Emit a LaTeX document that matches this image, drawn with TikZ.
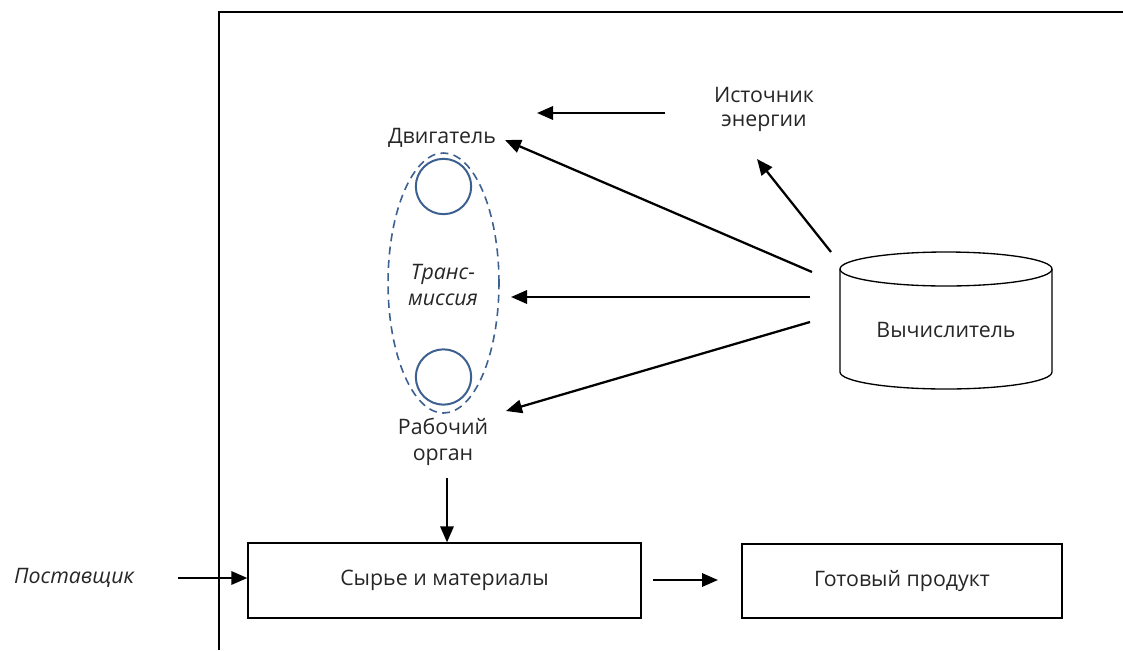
\documentclass[tikz,border=0pt]{standalone}
\usepackage{fontspec}
\setmainfont{Open Sans}
\usetikzlibrary{arrows.meta}
\definecolor{dblue}{HTML}{3C6090}
\definecolor{txt}{HTML}{262626}
\begin{document}
\begin{tikzpicture}[x=0.75pt,y=0.75pt,
  lbl/.style={font=\fontsize{16}{20}\selectfont, text=txt, align=center, inner sep=0pt},
  ilbl/.style={lbl, font=\fontsize{16}{20}\selectfont\itshape},
  conn/.style={line width=1.7pt, -{Triangle[length=12pt,width=10pt]}},
  box/.style={draw, line width=1pt, inner sep=0pt},
  circ/.style={draw=dblue, line width=1.5pt, circle, minimum size=41.5pt, inner sep=0pt}]
\useasboundingbox (0,0) rectangle (1123,-650);
% frame
\draw[line width=0.8pt] (219,-650) -- (219,-12) -- (1123,-12);
% labels
\node[lbl, font=\fontsize{16}{18}\selectfont] (src) at (764,-109) {Источник\\энергии};
\node[lbl] (motor) at (442,-138) {Двигатель};
\node[ilbl] (trans) at (443,-285) {Транс-\\миссия};
\node[lbl] (work) at (443,-442) {Рабочий\\орган};
\node[ilbl] (supp) at (74,-578) {Поставщик};
% transmission
\draw[dblue, line width=1.2pt, dash pattern=on 6pt off 4pt] (443.5,-283) ellipse [x radius=41.6pt, y radius=97.5pt];
\node[circ] (c1) at (443.5,-186.5) {};
\node[circ] (c2) at (443.5,-377) {};
% cylinder
\draw[line width=1pt] (840,-269) -- (840,-372) arc[start angle=180, end angle=360, x radius=79.5pt, y radius=12.75pt] -- (1052,-269);
\draw[line width=1pt] (946,-269) ellipse [x radius=79.5pt, y radius=12.75pt];
\node[lbl] (calc) at (946,-330) {Вычислитель};
% boxes
\node[box, minimum width=294.75pt, minimum height=56.25pt] (raw) at (444.5,-580.5) {};
\node[lbl] at (raw.center) {Сырье и материалы};
\node[box, minimum width=240pt, minimum height=55.5pt] (prod) at (902,-581) {};
\node[lbl] at (prod.center) {Готовый продукт};
% arrow coordinates
\coordinate (a1s) at (665,-113); \coordinate (a1e) at (537,-113);
\coordinate (a2s) at (831,-252); \coordinate (a2e) at (757,-159);
\coordinate (a3s) at (812,-272); \coordinate (a3e) at (505,-140);
\coordinate (a4s) at (810,-297); \coordinate (a4e) at (511,-297);
\coordinate (a5s) at (810,-322); \coordinate (a5e) at (506,-411);
\coordinate (a6s) at (447,-478);
\coordinate (a7s) at (178,-578);
\coordinate (a8s) at (653,-580); \coordinate (a8e) at (718,-580);
\draw[conn] (a1s) -- (a1e);
\draw[conn] (a2s) -- (a2e);
\draw[conn] (a3s) -- (a3e);
\draw[conn] (a4s) -- (a4e);
\draw[conn] (a5s) -- (a5e);
\draw[conn] (a6s) -- (a6s |- raw.north);
\draw[conn] (a7s) -- (a7s -| raw.west);
\draw[conn] (a8s) -- (a8e);
\end{tikzpicture}
\end{document}
